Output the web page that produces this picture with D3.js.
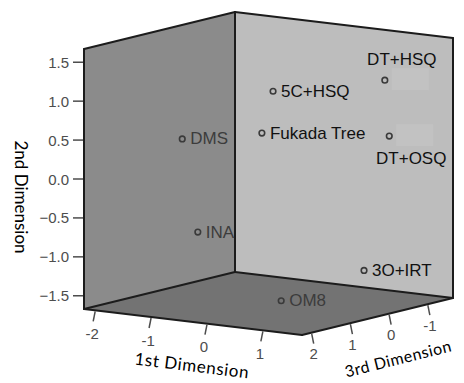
<!DOCTYPE html>
<html>
<head>
<meta charset="utf-8">
<script src="https://cdn.jsdelivr.net/npm/d3@7/dist/d3.min.js"></script>
<style>
  html, body { margin: 0; padding: 0; background: #fff; }
  svg { display: block; }
</style>
</head>
<body>
<svg id="chart" width="464" height="383"></svg>
<script>
// MDS solution: object labels and their coordinates on three dimensions
const labels = ["DT+HSQ", "5C+HSQ", "Fukada Tree", "DT+OSQ", "DMS", "INA", "3O+IRT", "OM8"];
const dim1 = [1.00, -0.03, -1.13, 1.01, -2.07, -1.93, 0.42, 0.15];
const dim2 = [1.16, 1.10, 0.31, 0.43, 0.24, -0.97, -1.37, -1.57];
const dim3 = [-0.90, 0.50, -0.80, -1.00, -0.10, -0.30, -1.20, 0.55];

// Axis ranges and tick values
const dim1Domain = [-2.2, 1.7];
const dim2Domain = [-1.67, 1.67];
const dim3Domain = [2.25, -1.65];
const dim1Ticks = [-2, -1, 0, 1];
const dim2Ticks = [-1.5, -1.0, -0.5, 0.0, 0.5, 1.0, 1.5];
const dim3Ticks = [2, 1, 0, -1];

const svg = d3.select("#chart");

// Oblique projection of the data cube: each axis runs along one box edge
const origin = [84, 309];
const EX = [218, 26];    // 1st dimension edge
const EY = [0, -260];    // 2nd dimension edge
const EZ = [151, -37];   // 3rd dimension edge
const fx = d3.scaleLinear().domain(dim1Domain).range([0, 1]);
const fy = d3.scaleLinear().domain(dim2Domain).range([0, 1]);
const fz = d3.scaleLinear().domain(dim3Domain).range([0, 1]);

function project(x, y, z) {
  const a = fx(x), b = fy(y), c = fz(z);
  return [origin[0] + a * EX[0] + b * EY[0] + c * EZ[0],
          origin[1] + a * EX[1] + b * EY[1] + c * EZ[1]];
}

const [x0, x1] = dim1Domain, [y0, y1] = dim2Domain, [zF, zB] = dim3Domain;

// Box panels: left wall, back wall, floor
const leftWall = [project(x0, y0, zF), project(x0, y1, zF), project(x0, y1, zB), project(x0, y0, zB)];
const backWall = [project(x0, y0, zB), project(x0, y1, zB), project(x1, y1, zB), project(x1, y0, zB)];
const floor = [project(x0, y0, zF), project(x0, y0, zB), project(x1, y0, zB), project(x1, y0, zF)];

const line = d3.line();
svg.append("path").attr("d", line(leftWall) + "Z").attr("fill", "#8b8b8b");
svg.append("path").attr("d", line(backWall) + "Z").attr("fill", "#bdbdbd");
svg.append("path").attr("d", line(floor) + "Z").attr("fill", "#737373");

// Box edges
const edges = [
  [project(x0, y0, zF), project(x0, y1, zF)],
  [project(x0, y1, zF), project(x0, y1, zB)],
  [project(x0, y1, zB), project(x1, y1, zB)],
  [project(x1, y1, zB), project(x1, y0, zB)],
  [project(x0, y0, zB), project(x0, y1, zB)],
  [project(x0, y0, zF), project(x0, y0, zB)],
  [project(x0, y0, zB), project(x1, y0, zB)],
  [project(x0, y0, zF), project(x1, y0, zF)],
  [project(x1, y0, zF), project(x1, y0, zB)]
];
svg.append("g").selectAll("path").data(edges).join("path")
  .attr("d", d => line(d))
  .attr("stroke", "#1c1c1c").attr("stroke-width", 2)
  .attr("fill", "none").attr("stroke-linecap", "round");

const tickFont = "'Liberation Sans', Arial, sans-serif";
const tickColor = "#4d4d4d";

// 2nd dimension axis on the left vertical edge
const g2 = svg.append("g");
dim2Ticks.forEach(t => {
  const p = project(x0, t, zF);
  g2.append("line").attr("x1", p[0] - 11).attr("x2", p[0] - 1)
    .attr("y1", p[1]).attr("y2", p[1])
    .attr("stroke", tickColor).attr("stroke-width", 1.5);
  g2.append("text").attr("x", p[0] - 15).attr("y", p[1])
    .attr("text-anchor", "end").attr("dominant-baseline", "central")
    .attr("font-family", tickFont).attr("font-size", 15).attr("fill", tickColor)
    .text(d3.format(".1f")(t));
});

// 1st dimension axis along the front-left floor edge
const g1 = svg.append("g");
dim1Ticks.forEach(t => {
  const p = project(t, y0, zF);
  g1.append("line").attr("x1", p[0]).attr("y1", p[1] + 1)
    .attr("x2", p[0] - 2).attr("y2", p[1] + 11)
    .attr("stroke", tickColor).attr("stroke-width", 1.5);
  g1.append("text").attr("x", p[0] - 3).attr("y", p[1] + 23)
    .attr("text-anchor", "middle").attr("dominant-baseline", "central")
    .attr("font-family", tickFont).attr("font-size", 15).attr("fill", tickColor)
    .text(t);
});

// 3rd dimension axis along the front-right floor edge
const g3 = svg.append("g");
dim3Ticks.forEach(t => {
  const p = project(x1, y0, t);
  g3.append("line").attr("x1", p[0]).attr("y1", p[1] + 1)
    .attr("x2", p[0] + 2).attr("y2", p[1] + 11)
    .attr("stroke", tickColor).attr("stroke-width", 1.5);
  g3.append("text").attr("x", p[0] + 2).attr("y", p[1] + 21)
    .attr("text-anchor", "middle").attr("dominant-baseline", "central")
    .attr("font-family", tickFont).attr("font-size", 15).attr("fill", tickColor)
    .text(t);
});

// Axis titles
const titleFont = "Lato, 'Open Sans', sans-serif";
svg.append("text")
  .attr("transform", "translate(21,197) rotate(90)")
  .attr("text-anchor", "middle").attr("dominant-baseline", "central")
  .attr("font-family", titleFont).attr("font-size", 17).attr("fill", "#000")
  .text("2nd Dimension");
svg.append("text")
  .attr("transform", "translate(192,365) rotate(7)")
  .attr("text-anchor", "middle").attr("dominant-baseline", "central")
  .attr("font-family", titleFont).attr("font-size", 17).attr("letter-spacing", 0.6)
  .attr("fill", "#000")
  .text("1st Dimension");
svg.append("text")
  .attr("transform", "translate(398,358) rotate(-14)")
  .attr("text-anchor", "middle").attr("dominant-baseline", "central")
  .attr("font-family", titleFont).attr("font-size", 16).attr("letter-spacing", 0.5)
  .attr("fill", "#000")
  .text("3rd Dimension");

// Points and their labels
const points = labels.map((name, i) => ({
  name, x: dim1[i], y: dim2[i], z: dim3[i], p: project(dim1[i], dim2[i], dim3[i])
}));

// Labels that sit above or below their marker instead of to the right
const labelPlacement = { "DT+HSQ": "above", "DT+OSQ": "below" };

const gp = svg.append("g");
// faint label boxes left at the default position of relocated labels
points.filter(d => labelPlacement[d.name]).forEach(d => {
  gp.append("rect").attr("x", d.p[0] + 7).attr("y", d.p[1] - 12)
    .attr("width", 37).attr("height", 22).attr("fill", "#c2c2c2");
});

points.forEach(d => {
  // labels against the darker wall/floor are printed in grey
  const nearPanel = fx(d.x) < 0.08 || fy(d.y) < 0.08;
  gp.append("circle").attr("cx", d.p[0]).attr("cy", d.p[1]).attr("r", 2.8)
    .attr("fill", "none").attr("stroke", "#3a3a3a").attr("stroke-width", 1.6);
  const place = labelPlacement[d.name];
  const t = gp.append("text")
    .attr("font-family", tickFont).attr("font-size", 17)
    .attr("fill", nearPanel ? "#3c3c3c" : "#111")
    .text(d.name);
  if (place === "above") {
    t.attr("x", d.p[0] + 17).attr("y", d.p[1] - 15).attr("text-anchor", "middle");
  } else if (place === "below") {
    t.attr("x", d.p[0] + 22).attr("y", d.p[1] + 28).attr("text-anchor", "middle");
  } else {
    t.attr("x", d.p[0] + 8).attr("y", d.p[1]).attr("dominant-baseline", "central");
  }
});
</script>
</body>
</html>
